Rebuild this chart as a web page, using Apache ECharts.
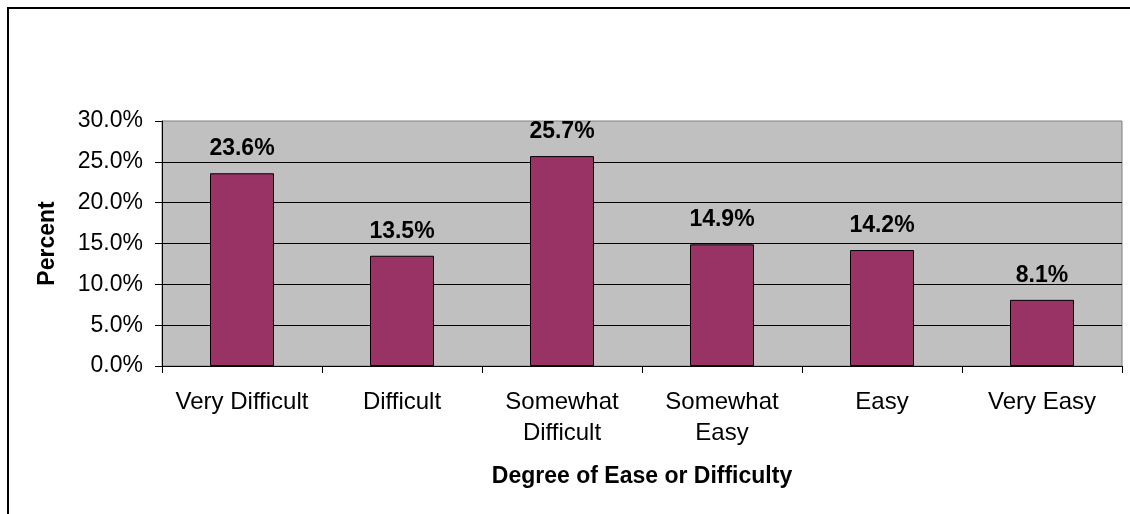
<!DOCTYPE html>
<html>
<head>
<meta charset="utf-8">
<script src="https://cdn.jsdelivr.net/npm/echarts@6/dist/echarts.min.js"></script>
<style>
html,body{margin:0;padding:0;background:#fff;}
#c{width:1130px;height:514px;}
</style>
</head>
<body>
<div id="c"></div>
<script>
const categories = ['Very Difficult', 'Difficult', 'Somewhat Difficult', 'Somewhat Easy', 'Easy', 'Very Easy'];
const percentValues = [23.6, 13.5, 25.7, 14.9, 14.2, 8.1];
const yTicks = { min: 0, max: 30, interval: 5 };
const xAxisTitle = 'Degree of Ease or Difficulty';
const yAxisTitle = 'Percent';

const FONT = "'Liberation Sans', Arial, sans-serif";
const chart = echarts.init(document.getElementById('c'), null, { renderer: 'canvas' });
chart.setOption({
  backgroundColor: '#ffffff',
  animation: false,
  graphic: [{
    type: 'rect',
    shape: { x: 8, y: 8, width: 1200, height: 600 },
    style: { fill: 'none', stroke: '#000', lineWidth: 2 },
    silent: true,
    z: 100
  }],
  grid: {
    left: 162, top: 121, right: 8, bottom: 148,
    show: true, backgroundColor: '#C0C0C0', borderColor: '#808080', borderWidth: 1
  },
  xAxis: {
    type: 'category',
    data: categories,
    boundaryGap: true,
    name: xAxisTitle,
    nameLocation: 'middle',
    nameGap: 99,
    nameTextStyle: { fontFamily: FONT, fontSize: 23, fontWeight: 'bold', color: '#000' },
    axisLine: { show: true, lineStyle: { color: '#000', width: 1 } },
    axisTick: { show: true, interval: 0, length: 7, lineStyle: { color: '#000' } },
    axisLabel: {
      interval: 0, margin: 21, color: '#000', fontFamily: FONT, fontSize: 24, lineHeight: 31,
      formatter: v => v.replace('Somewhat ', 'Somewhat\n')
    },
    splitLine: { show: false }
  },
  yAxis: {
    type: 'value',
    min: yTicks.min, max: yTicks.max, interval: yTicks.interval,
    name: yAxisTitle,
    nameLocation: 'middle',
    nameRotate: 90,
    nameGap: 103,
    nameTextStyle: { fontFamily: FONT, fontSize: 23, fontWeight: 'bold', color: '#000' },
    axisLine: { show: true, lineStyle: { color: '#000', width: 1 } },
    axisTick: { show: true, length: 7, lineStyle: { color: '#000' } },
    axisLabel: {
      margin: 19, color: '#000', fontFamily: FONT, fontSize: 23,
      formatter: v => v.toFixed(1) + '%'
    },
    splitLine: { show: true, showMaxLine: false, lineStyle: { color: '#000', width: 1 } }
  },
  series: [{
    type: 'bar',
    data: percentValues,
    barWidth: '40%',
    itemStyle: { color: '#993366', borderColor: '#000', borderWidth: 1 },
    label: {
      show: true, position: 'top', distance: 13,
      fontFamily: FONT, fontSize: 23, fontWeight: 'bold', color: '#000',
      formatter: p => p.value.toFixed(1) + '%'
    }
  }]
});
</script>
</body>
</html>
